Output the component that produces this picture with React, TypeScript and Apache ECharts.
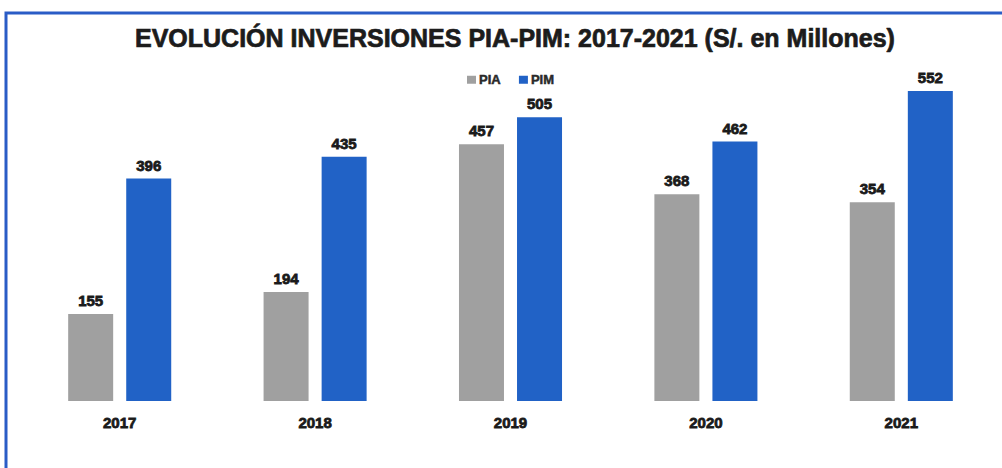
import React, { useEffect, useRef } from "react";
import * as echarts from "echarts";

const categories = ["2017", "2018", "2019", "2020", "2021"];
const piaValues = [155, 194, 457, 368, 354];
const pimValues = [396, 435, 505, 462, 552];
const titleText = "EVOLUCIÓN INVERSIONES PIA-PIM: 2017-2021 (S/. en Millones)";

export default function App() {
  const ref = useRef<HTMLDivElement>(null);
  useEffect(() => {
    if (!ref.current) return;
    const chart = echarts.init(ref.current, null, { renderer: "svg" });
    const labelStyle = {
      show: true,
      position: "top" as const,
      distance: 6,
      color: "#1a1a1a",
      fontFamily: "Liberation Sans",
      fontWeight: "bold" as const,
      fontSize: 15,
      textBorderColor: "#1a1a1a",
      textBorderWidth: 0.8,
    };
    chart.setOption({
      animation: false,
      backgroundColor: "#ffffff",
      title: {
        text: titleText,
        left: 130,
        top: 20,
        textStyle: {
          fontFamily: "Liberation Sans",
          fontWeight: "bold",
          fontSize: 25,
          color: "#1c1c1c",
          textBorderColor: "#1c1c1c",
          textBorderWidth: 0.7,
        },
      },
      legend: {
        top: 73,
        left: 467,
        padding: 0,
        itemWidth: 9,
        itemHeight: 8,
        itemGap: 18,
        icon: "rect",
        textStyle: {
          fontFamily: "Liberation Sans",
          fontWeight: "bold",
          fontSize: 13,
          color: "#2a2a2a",
          padding: [0, 0, 0, -2],
          textBorderColor: "#2a2a2a",
          textBorderWidth: 0.5,
        },
        data: ["PIA", "PIM"],
      },
      graphic: [
        {
          type: "polyline",
          shape: { points: [[6, 468], [6, 13], [1002, 13]] },
          style: { stroke: "#2a5cc6", lineWidth: 3, fill: "none" },
        },
      ],
      grid: { left: 22, right: 3, top: 64, bottom: 67 },
      xAxis: {
        type: "category",
        data: categories,
        axisLine: { show: false },
        axisTick: { show: false },
        axisLabel: {
          margin: 14,
          color: "#1a1a1a",
          fontFamily: "Liberation Sans",
          fontWeight: "bold",
          fontSize: 15,
          textBorderColor: "#1a1a1a",
          textBorderWidth: 0.8,
        },
      },
      yAxis: {
        type: "value",
        min: 0,
        max: 600,
        show: false,
        splitLine: { show: false },
      },
      series: [
        {
          name: "PIA",
          type: "bar",
          data: piaValues,
          barWidth: 45,
          barGap: "29%",
          itemStyle: { color: "#a0a0a0" },
          label: labelStyle,
        },
        {
          name: "PIM",
          type: "bar",
          data: pimValues,
          barWidth: 45,
          itemStyle: { color: "#2162c6" },
          label: labelStyle,
        },
      ],
    });
    return () => chart.dispose();
  }, []);
  return (
    <div
      ref={ref}
      style={{ position: "fixed", left: 0, top: 0, width: 1002, height: 468 }}
    />
  );
}
